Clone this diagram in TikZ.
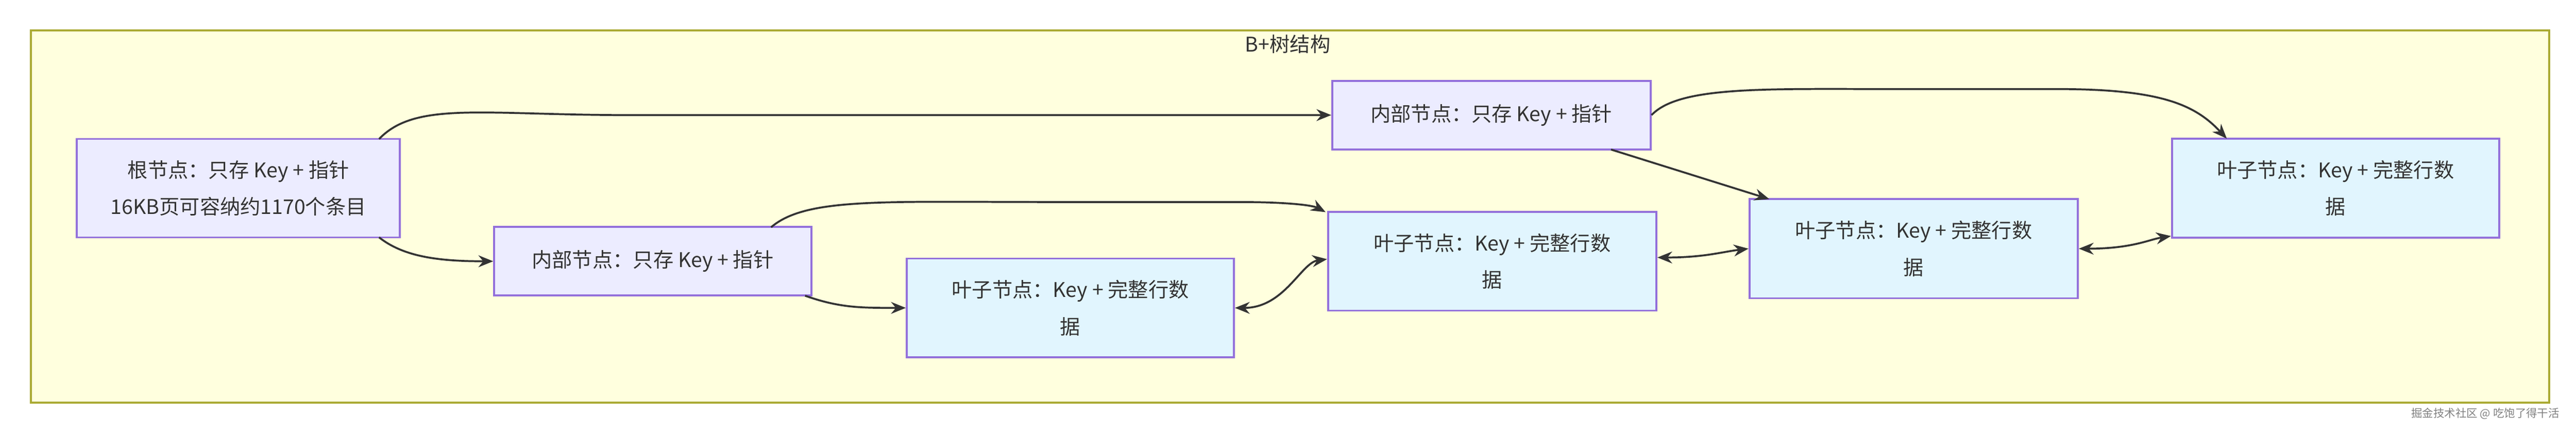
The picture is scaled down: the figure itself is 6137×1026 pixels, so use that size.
\documentclass[tikz,border=0pt]{standalone}
\usepackage{fontspec}
\setmainfont{Noto Sans CJK SC}
\usetikzlibrary{arrows.meta}
\definecolor{clf}{HTML}{FFFFDE}
\definecolor{cls}{HTML}{AAAA33}
\definecolor{inf}{HTML}{ECECFF}
\definecolor{nds}{HTML}{9370DB}
\definecolor{lff}{HTML}{E1F5FE}
\definecolor{edg}{HTML}{333333}
\begin{document}
\begin{tikzpicture}[x=0.01cm,y=-0.01cm,
  box/.style={draw=nds,line width=1.3pt,align=center,inner sep=0pt,font=\fontsize{13.7}{25}\selectfont,text=edg},
  inner/.style={box,fill=inf},
  leaf/.style={box,fill=lff},
  edge/.style={draw=edg,line width=1.3pt,-{Stealth[length=10pt,width=8pt]}},
  bedge/.style={draw=edg,line width=1.3pt,{Stealth[length=10pt,width=8pt]}-{Stealth[length=10pt,width=8pt]}}]
\useasboundingbox (0,0) rectangle (6137,1026);
\node[draw=cls,fill=clf,line width=1.3pt,inner sep=0pt,anchor=north west,minimum width=59.96cm,minimum height=8.86cm] (cl) at (71,70) {};
\node[font=\fontsize{13.7}{16}\selectfont,text=edg] (title) at (3068,105) {B+树结构};
\node[inner,minimum width=7.69cm,minimum height=2.34cm] (root) at (568,448) {根节点：只存 Key + 指针\\16KB页可容纳约1170个条目};
\node[inner,minimum width=7.55cm,minimum height=1.63cm] (in1) at (1555,622) {内部节点：只存 Key + 指针};
\node[inner,minimum width=7.58cm,minimum height=1.63cm] (in2) at (3553,274) {内部节点：只存 Key + 指针};
\node[leaf,minimum width=7.79cm,minimum height=2.35cm] (l1) at (2550,733) {叶子节点：Key + 完整行数\\据};
\node[leaf,minimum width=7.82cm,minimum height=2.35cm] (l2) at (3555,622) {叶子节点：Key + 完整行数\\据};
\node[leaf,minimum width=7.82cm,minimum height=2.36cm] (l3) at (4559,592) {叶子节点：Key + 完整行数\\据};
\node[leaf,minimum width=7.79cm,minimum height=2.36cm] (l4) at (5564,448) {叶子节点：Key + 完整行数\\据};
\coordinate (rt) at (903,331);
\coordinate (rb) at (903,565);
\coordinate (i1t) at (1837,541);
\coordinate (i1b) at (1918,704);
\coordinate (i2b) at (3838,356);
\coordinate (l2t) at (3158,505);
\coordinate (l3t) at (4215,474);
\coordinate (l4t) at (5305,330);
\draw[edge] (rt) .. controls (990,240) and (1150,274) .. (1500,274) -- (in2.west);
\draw[edge] (rb) .. controls (960,610) and (1040,622) .. (in1.west);
\draw[edge] (i1t) .. controls (1920,470) and (2100,481) .. (2500,481) -- (2950,481) .. controls (3080,481) and (3130,490) .. (l2t);
\draw[edge] (i1b) .. controls (2000,733) and (2050,733) .. (l1.west);
\draw[edge] (i2b) -- (l3t);
\draw[edge] (in2.east) .. controls (4000,205) and (4200,212) .. (4500,212) -- (4900,212) .. controls (5150,212) and (5230,250) .. (l4t);
\draw[bedge] (l1.east) .. controls (3060,733) and (3100,625) .. (l2.west |- 0,617);
\draw[bedge] (l2.east |- 0,613) .. controls (4060,613) and (4100,600) .. (l3.west |- 0,592);
\draw[bedge] (l3.east |- 0,592) .. controls (5080,592) and (5120,570) .. (l4.west |- 0,562);
\node[font=\fontsize{7.5}{8}\selectfont,text=gray,anchor=east] (wm) at (6110,985) {掘金技术社区 @ 吃饱了得干活};
\end{tikzpicture}
\end{document}
